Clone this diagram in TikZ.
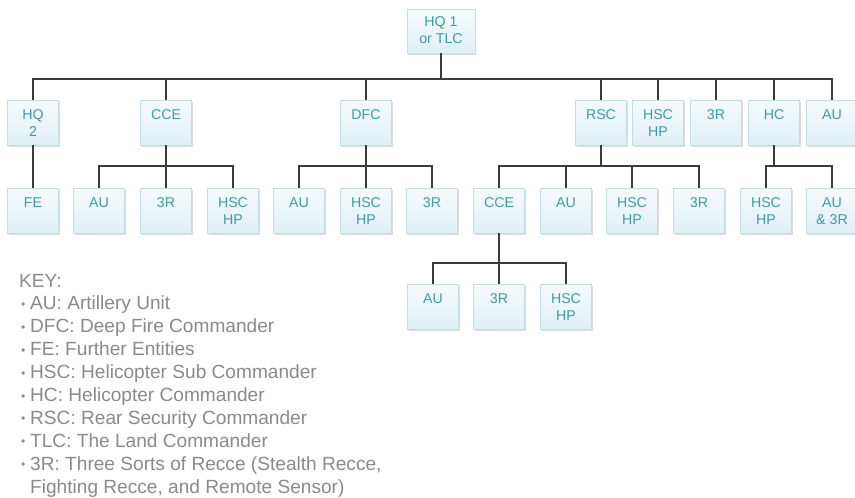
\documentclass[tikz,border=0pt]{standalone}
\usepackage{fontspec}
\setmainfont{Liberation Sans}
\usetikzlibrary{shadows}
\definecolor{boxtext}{HTML}{3F9CA3}
\definecolor{boxedge}{HTML}{C6DDE3}
\definecolor{boxtop}{HTML}{F5FAFC}
\definecolor{boxbot}{HTML}{E0F0F5}
\definecolor{keygray}{HTML}{8A8A8A}
\definecolor{linecol}{HTML}{3C3C3C}
\newcommand{\boxlabel}[2][51pt]{\parbox[c][45pt][t]{#1}{\fontsize{14.2}{17}\selectfont\centering\vspace*{8pt}\strut #2}}
\newcommand{\keyitem}{\makebox[11pt][l]{\hspace{2pt}\raisebox{1.5pt}{\fontsize{12}{12}\selectfont •}}}
\tikzset{
  box/.style={inner sep=0pt, outer sep=0pt, draw=boxedge, line width=0.8pt,
    top color=boxtop, bottom color=boxbot, text=boxtext, anchor=north,
    drop shadow={opacity=0.28, shadow xshift=1.2pt, shadow yshift=-1.6pt}},
  conn/.style={draw=linecol, line width=1.3pt}
}
\begin{document}
\begin{tikzpicture}[x=1pt, y=-1pt]
\useasboundingbox (0,0) rectangle (855,498);
% top
\node[box] (hq1) at (441,9) {\parbox[c][44pt][t]{68pt}{\fontsize{14.2}{17}\selectfont\centering\vspace*{6pt}\strut HQ 1\\or TLC}};
% level 1
\node[box] (hq2) at (33,100) {\boxlabel{HQ\\2}};
\node[box] (cce) at (166,100) {\boxlabel{CCE}};
\node[box] (dfc) at (366,100) {\boxlabel{DFC}};
\node[box] (rsc) at (601,100) {\boxlabel{RSC}};
\node[box] (hsc0) at (658,100) {\boxlabel{HSC\\HP}};
\node[box] (r0) at (716,100) {\boxlabel{3R}};
\node[box] (hc) at (774,100) {\boxlabel{HC}};
\node[box] (au0) at (832,100) {\boxlabel{AU}};
% level 2
\node[box] (fe) at (33,188) {\boxlabel{FE}};
\node[box] (au1) at (99,188) {\boxlabel{AU}};
\node[box] (r1) at (166,188) {\boxlabel{3R}};
\node[box] (hsc1) at (233,188) {\boxlabel{HSC\\HP}};
\node[box] (au2) at (299,188) {\boxlabel{AU}};
\node[box] (hsc2) at (366,188) {\boxlabel{HSC\\HP}};
\node[box] (r2) at (432,188) {\boxlabel{3R}};
\node[box] (cce3) at (499,188) {\boxlabel{CCE}};
\node[box] (au3) at (566,188) {\boxlabel{AU}};
\node[box] (hsc3) at (632,188) {\boxlabel{HSC\\HP}};
\node[box] (r3) at (699,188) {\boxlabel{3R}};
\node[box] (hsc4) at (766,188) {\boxlabel{HSC\\HP}};
\node[box] (au4) at (832,188) {\boxlabel{AU\\\& 3R}};
% level 3
\node[box] (au5) at (433,284) {\boxlabel{AU}};
\node[box] (r5) at (499,284) {\boxlabel{3R}};
\node[box] (hsc5) at (566,284) {\boxlabel{HSC\\HP}};
% bars
\coordinate (bar0) at (0,79);
\coordinate (bar1) at (0,166);
\coordinate (bar2) at (0,263);
% connectors level 0-1
\draw[conn] (hq1.south) -- (hq1.south |- bar0);
\draw[conn] (hq2.north) -- (hq2.north |- bar0) -- (au0.north |- bar0) -- (au0.north);
\foreach \n in {cce,dfc,rsc,hsc0,r0,hc} \draw[conn] (\n.north) -- (\n.north |- bar0);
% level 1-2
\draw[conn] (hq2.south) -- (fe.north);
\draw[conn] (cce.south) -- (r1.north);
\draw[conn] (au1.north) -- (au1.north |- bar1) -- (hsc1.north |- bar1) -- (hsc1.north);
\draw[conn] (dfc.south) -- (hsc2.north);
\draw[conn] (au2.north) -- (au2.north |- bar1) -- (r2.north |- bar1) -- (r2.north);
\draw[conn] (rsc.south) -- (rsc.south |- bar1);
\draw[conn] (cce3.north) -- (cce3.north |- bar1) -- (r3.north |- bar1) -- (r3.north);
\draw[conn] (au3.north) -- (au3.north |- bar1);
\draw[conn] (hsc3.north) -- (hsc3.north |- bar1);
\draw[conn] (hc.south) -- (hc.south |- bar1);
\draw[conn] (hsc4.north) -- (hsc4.north |- bar1) -- (au4.north |- bar1) -- (au4.north);
% level 2-3
\draw[conn] (cce3.south) -- (r5.north);
\draw[conn] (au5.north) -- (au5.north |- bar2) -- (hsc5.north |- bar2) -- (hsc5.north);
% key
\node[anchor=base west, inner sep=0pt, text=keygray] (key) at (19,287) {\parbox[t]{420pt}{\fontsize{19.1}{22.9}\selectfont\raggedright
KEY:\\
\keyitem AU: Artillery Unit\\
\keyitem DFC: Deep Fire Commander\\
\keyitem FE: Further Entities\\
\keyitem HSC: Helicopter Sub Commander\\
\keyitem HC: Helicopter Commander\\
\keyitem RSC: Rear Security Commander\\
\keyitem TLC: The Land Commander\\
\keyitem 3R: Three Sorts of Recce (Stealth Recce,\\
\hspace*{11pt}Fighting Recce, and Remote Sensor)}};
\end{tikzpicture}
\end{document}
